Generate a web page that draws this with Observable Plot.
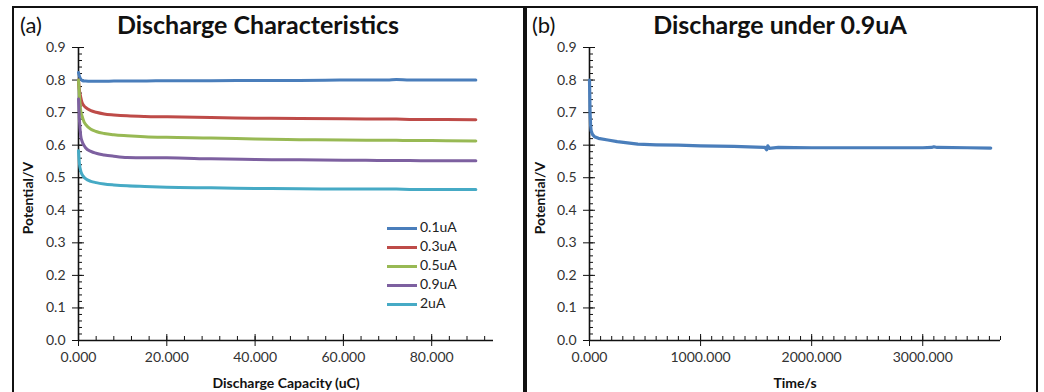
<!DOCTYPE html>
<html>
<head>
<meta charset="utf-8">
<script src="https://cdn.jsdelivr.net/npm/d3@7"></script>
<script src="https://cdn.jsdelivr.net/npm/@observablehq/plot@0.6"></script>
<style>
  html, body { margin: 0; padding: 0; background: #fff; }
  #wrap { position: relative; width: 1044px; height: 392px; overflow: hidden; font-family: Lato, "Open Sans", sans-serif; color: #111; }
  .abs { position: absolute; white-space: nowrap; }
  .frame { position: absolute; border: 2px solid #111; }
  .title { font-weight: bold; font-size: 25px; }
  .tag { font-size: 22px; }
  .axlab { font-weight: bold; font-size: 14px; }
  .leg { position: absolute; font-size: 14px; color: #222; height: 16px; line-height: 16px; }
  .leg span.sw { display: inline-block; width: 30px; height: 3px; vertical-align: middle; margin-right: 3px; }
  svg { position: absolute; }
</style>
</head>
<body>
<div id="wrap"></div>
<script>
// ---------- Panel (a): Discharge characteristics ----------
const capacity = [0, 0.2, 0.5, 0.8, 1.3, 1.6, 2.8, 4, 5.8, 8, 11, 15, 20, 30, 40, 50, 60, 70, 72, 75, 80, 90];
const v01uA = [0.823, 0.812, 0.803, 0.799, 0.797, 0.797, 0.796, 0.796, 0.796, 0.797, 0.797, 0.797, 0.798, 0.798, 0.799, 0.799, 0.800, 0.800, 0.802, 0.800, 0.800, 0.800];
const v03uA = [0.800, 0.770, 0.748, 0.731, 0.720, 0.716, 0.706, 0.701, 0.696, 0.693, 0.690, 0.688, 0.687, 0.685, 0.683, 0.682, 0.681, 0.680, 0.680, 0.679, 0.679, 0.678];
const v05uA = [0.800, 0.757, 0.706, 0.690, 0.670, 0.664, 0.649, 0.642, 0.636, 0.632, 0.629, 0.626, 0.624, 0.622, 0.619, 0.617, 0.616, 0.615, 0.615, 0.614, 0.614, 0.613];
const v09uA = [0.742, 0.680, 0.629, 0.612, 0.598, 0.592, 0.581, 0.575, 0.570, 0.566, 0.562, 0.561, 0.561, 0.558, 0.556, 0.555, 0.554, 0.553, 0.553, 0.553, 0.552, 0.552];
const v2uA  = [0.583, 0.545, 0.521, 0.510, 0.501, 0.497, 0.489, 0.485, 0.481, 0.478, 0.475, 0.473, 0.471, 0.469, 0.467, 0.466, 0.465, 0.465, 0.465, 0.464, 0.464, 0.464];
const seriesNames = ["0.1uA", "0.3uA", "0.5uA", "0.9uA", "2uA"];
const seriesColors = ["#4a7ebb", "#be4b48", "#98b954", "#7d60a0", "#46aac5"];
const seriesValues = [v01uA, v03uA, v05uA, v09uA, v2uA];
const xTicksA = [0, 20, 40, 60, 80];
const yTicks = [0, 0.1, 0.2, 0.3, 0.4, 0.5, 0.6, 0.7, 0.8, 0.9];

// ---------- Panel (b): Discharge under 0.9uA ----------
const time = [0, 2, 5, 10, 15, 25, 45, 80, 165, 250, 435, 600, 800, 1000, 1300, 1500, 1580, 1595, 1605, 1620, 1700, 2000, 2500, 3000, 3080, 3100, 3130, 3400, 3612];
const v09uA_time = [0.800, 0.760, 0.700, 0.660, 0.644, 0.634, 0.626, 0.621, 0.616, 0.611, 0.603, 0.601, 0.600, 0.598, 0.596, 0.594, 0.593, 0.586, 0.598, 0.590, 0.593, 0.592, 0.592, 0.592, 0.593, 0.595, 0.593, 0.592, 0.591];
const xTicksB = [0, 1000, 2000, 3000];

const rowsA = seriesNames.flatMap((name, s) => capacity.map((c, i) => ({series: name, x: c, y: seriesValues[s][i]})));
const rowsB = time.map((t, i) => ({x: t, y: v09uA_time[i]}));

const yMinor = d3.range(0, 0.9001, 0.02);
const fmt1 = d3.format(".1f");
const fmt3 = d3.format(".3f");

function axes(xMajor, xMinor) {
  return [
    Plot.axisY({ticks: yTicks, tickSize: 6, tickPadding: 7, tickFormat: fmt1, label: null, stroke: "#111"}),
    Plot.axisY({ticks: yTicks, tickSize: -6, text: null, label: null, stroke: "#111"}),
    Plot.axisY({ticks: yMinor, tickSize: -4, text: null, label: null, stroke: "#111"}),
    Plot.axisX({ticks: xMajor, tickSize: 6, tickPadding: 6, tickFormat: fmt3, label: null, stroke: "#111"}),
    Plot.axisX({ticks: xMajor, tickSize: -6, text: null, label: null, stroke: "#111"}),
    Plot.axisX({ticks: xMinor, tickSize: -4, text: null, label: null, stroke: "#111"}),
    Plot.ruleX([0], {stroke: "#111", strokeWidth: 1.6}),
    Plot.ruleY([0], {stroke: "#111", strokeWidth: 1.6})
  ];
}

const styleObj = {fontFamily: "Lato, 'Open Sans', sans-serif", fontSize: "14px", color: "#333", background: "transparent", overflow: "visible"};

const plotA = Plot.plot({
  width: 524, height: 392,
  marginLeft: 78, marginRight: 31, marginTop: 47, marginBottom: 52,
  style: styleObj,
  x: {domain: [0, 94]},
  y: {domain: [0, 0.9]},
  color: {domain: seriesNames, range: seriesColors},
  marks: [
    ...axes(xTicksA, d3.range(0, 94.01, 4)),
    Plot.line(rowsA, {x: "x", y: "y", z: "series", stroke: "series", strokeWidth: 3, curve: "monotone-x"})
  ]
});

const plotB = Plot.plot({
  width: 520, height: 392,
  marginLeft: 65, marginRight: 44, marginTop: 47, marginBottom: 52,
  style: styleObj,
  x: {domain: [0, 3700]},
  y: {domain: [0, 0.9]},
  marks: [
    ...axes(xTicksB, d3.range(0, 3700.1, 100)),
    Plot.line(rowsB, {x: "x", y: "y", stroke: "#4a7ebb", strokeWidth: 3.2})
  ]
});

const wrap = document.getElementById("wrap");
plotA.style.left = "0px"; plotA.style.top = "0px";
plotB.style.left = "524px"; plotB.style.top = "0px";
wrap.appendChild(plotA);
wrap.appendChild(plotB);

function add(html, css, cls) {
  const d = document.createElement("div");
  d.className = "abs " + (cls || "");
  d.innerHTML = html;
  Object.assign(d.style, css);
  wrap.appendChild(d);
  return d;
}
// frames
add("", {left: "12px", top: "6px", width: "511px", height: "400px"}, "frame");
add("", {left: "523px", top: "6px", width: "511px", height: "400px"}, "frame");

// panel titles
add("(a)", {left: "20px", top: "11px"}, "tag");
add("Discharge Characteristics", {left: "258px", top: "9px", transform: "translateX(-50%)"}, "title");
add("(b)", {left: "532px", top: "11px"}, "tag");
add("Discharge under 0.9uA", {left: "780px", top: "9px", transform: "translateX(-50%)"}, "title");

// axis titles
add("Discharge Capacity (uC)", {left: "286px", top: "374px", transform: "translateX(-50%)"}, "axlab");
add("Time/s", {left: "795px", top: "374px", transform: "translateX(-50%)"}, "axlab");
add("Potential/V", {left: "27px", top: "198px", transform: "translate(-50%,-50%) rotate(-90deg)"}, "axlab");
add("Potential/V", {left: "539px", top: "198px", transform: "translate(-50%,-50%) rotate(-90deg)"}, "axlab");

// legend for panel (a)
const legendTops = [219, 238, 257, 276, 295];
seriesNames.forEach((n, i) => {
  const d = document.createElement("div");
  d.className = "leg";
  d.style.left = "387px";
  d.style.top = legendTops[i] + "px";
  d.innerHTML = `<span class="sw" style="background:${seriesColors[i]}"></span>${n}`;
  wrap.appendChild(d);
});
</script>
</body>
</html>
